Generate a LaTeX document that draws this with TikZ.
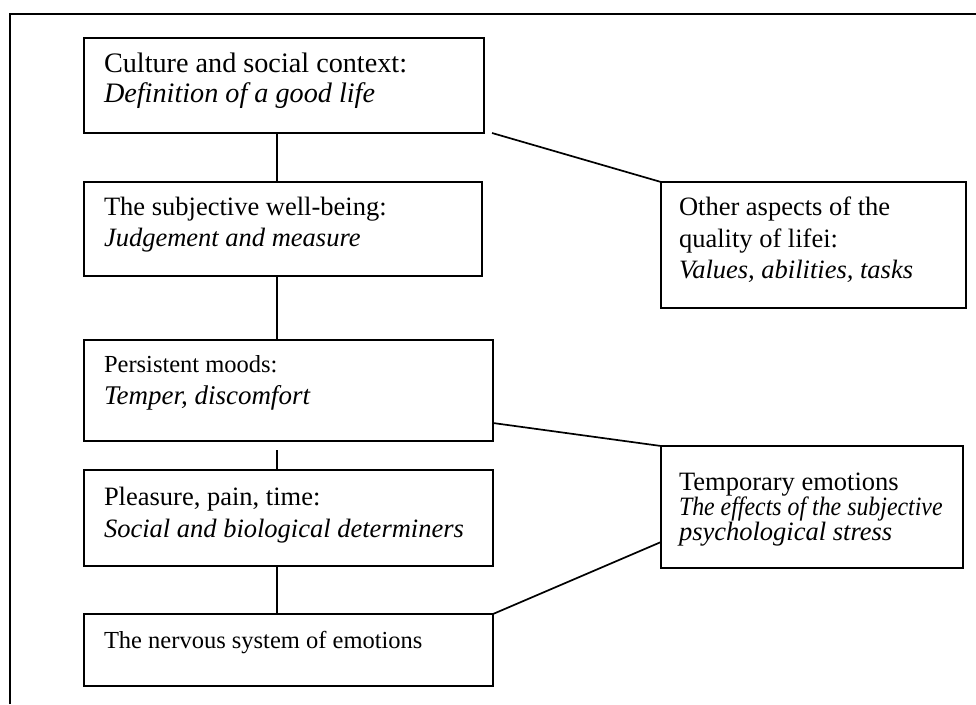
\documentclass[tikz,border=0pt]{standalone}
\usepackage{fontspec}
\setmainfont{Liberation Serif}
\usetikzlibrary{calc}
\begin{document}
\begin{tikzpicture}[x=1pt,y=-1pt,
  box/.style={draw,line width=2pt,inner sep=0pt,outer sep=0pt,rectangle},
  link/.style={line width=1.7pt},
  frameline/.style={line width=2.6pt},
  txt/.style={anchor=base west,inner sep=0pt,outer sep=0pt,font=\fontsize{26.5}{30}\selectfont},
  bigtxt/.style={txt,font=\fontsize{28.2}{32}\selectfont},
  smalltxt/.style={txt,font=\fontsize{24.5}{28}\selectfont}]
\useasboundingbox (0,0) rectangle (976,704);
% outer frame (only top and left edges are inside the picture)
\coordinate (fbl) at (10,704);
\coordinate (ftl) at (10,14);
\coordinate (ftr) at (976,14);
\draw[frameline] (fbl) -- (ftl) -- (ftr);
% boxes
\node[box,minimum width=400pt,minimum height=95pt] (b1) at (284,85.5) {};
\node[box,minimum width=398pt,minimum height=94pt] (b2) at (283,229) {};
\node[box,minimum width=409pt,minimum height=101pt] (b3) at (288.5,390.5) {};
\node[box,minimum width=409pt,minimum height=96pt] (b4) at (288.5,518) {};
\node[box,minimum width=409pt,minimum height=72pt] (b5) at (288.5,650) {};
\node[box,minimum width=305pt,minimum height=126pt] (bA) at (813.5,245) {};
\node[box,minimum width=302pt,minimum height=122pt] (bB) at (812,507) {};
% texts
\node[bigtxt] (t1a) at (104,72) {Culture and social context:};
\node[bigtxt] (t1b) at (104,102) {\textit{Definition of a good life}};
\node[txt] (t2a) at (104,215) {The subjective well-being:};
\node[txt] (t2b) at (104,246) {\textit{Judgement and measure}};
\node[smalltxt] (t3a) at (104,372) {Persistent moods:};
\node[txt,font=\fontsize{27}{30}\selectfont] (t3b) at (104,404) {\textit{Temper, discomfort}};
\node[txt] (t4a) at (104,505) {Pleasure, pain, time:};
\node[txt] (t4b) at (104,537) {\textit{Social and biological determiners}};
\node[smalltxt] (t5a) at (104,648) {The nervous system of emotions};
\node[txt] (tAa) at (679,215) {Other aspects of the};
\node[txt] (tAb) at (679,247) {quality of lifei:};
\node[txt] (tAc) at (679,278) {\textit{Values, abilities, tasks}};
\node[txt] (tBa) at (679,490) {Temporary emotions};
\node[txt] (tBb) at (679,515) {\scalebox{0.9}[1]{\textit{The effects of the subjective}}};
\node[txt] (tBc) at (679,540) {\textit{psychological stress}};
% connectors
\coordinate (spine) at (277,0);
\draw[link] (spine |- b1.south) -- (spine |- b2.north);
\draw[link] (spine |- b2.south) -- (spine |- b3.north);
\draw[link] ([yshift=-9pt]spine |- b3.south) -- (spine |- b4.north);
\draw[link] (spine |- b4.south) -- (spine |- b5.north);
\draw[link] ([xshift=8pt]b1.south east) -- (bA.north west);
\draw[link] ([yshift=-32.5pt]b3.east) -- (bB.north west);
\draw[link] (b5.north east) -- ([yshift=-35pt]bB.west);
\end{tikzpicture}
\end{document}
